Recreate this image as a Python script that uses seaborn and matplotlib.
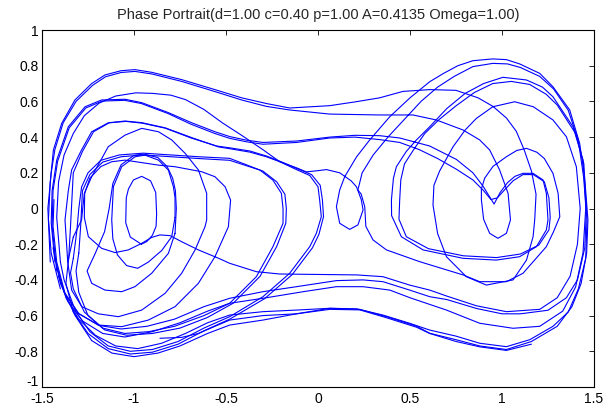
import pandas as pd
import seaborn as sns
import matplotlib.pyplot as plt
from matplotlib.transforms import ScaledTranslation

# Phase-plane orbit pieces (x, dx/dt), read as polylines.
outer_top = [(-1.40, -0.45), (-1.45, -0.25), (-1.465, -0.06), (-1.455, 0.15), (-1.438, 0.328), (-1.393, 0.477),
             (-1.321, 0.608), (-1.23, 0.70), (-1.158, 0.748), (-1.07, 0.772), (-0.995, 0.778), (-0.904, 0.763),
             (-0.741, 0.722), (-0.56, 0.666), (-0.415, 0.62), (-0.28, 0.588), (-0.154, 0.563), (0.063, 0.576),
             (0.2, 0.597), (0.335, 0.62), (0.462, 0.656), (0.607, 0.666), (0.75, 0.662), (0.87, 0.62),
             (0.951, 0.572), (1.024, 0.507), (1.078, 0.432), (1.12, 0.33), (1.16, 0.21), (1.185, 0.08),
             (1.178, -0.06), (1.169, -0.158), (1.133, -0.289), (1.06, -0.40), (0.915, -0.429), (0.806, -0.382),
             (0.698, -0.27), (0.65, -0.14), (0.625, 0.02), (0.63, 0.13), (0.661, 0.21), (0.734, 0.346),
             (0.80, 0.44), (0.861, 0.505), (0.95, 0.57), (1.069, 0.598), (1.17, 0.57), (1.277, 0.496),
             (1.35, 0.402), (1.404, 0.234), (1.425, 0.0), (1.41, -0.2), (1.37, -0.38), (1.30, -0.50),
             (1.205, -0.565), (1.024, -0.578), (0.861, -0.545), (0.698, -0.49), (0.607, -0.457), (0.498, -0.429),
             (0.353, -0.382), (0.21, -0.372), (-0.208, -0.367), (-0.335, -0.354), (-0.48, -0.307), (-0.54, -0.279),
             (-0.65, -0.232), (-0.741, -0.186), (-0.804, -0.152), (-0.859, -0.148), (-0.904, -0.162),
             (-0.958, -0.195), (-1.031, -0.232), (-1.103, -0.247), (-1.176, -0.223), (-1.248, -0.158),
             (-1.27, -0.05), (-1.268, 0.085), (-1.24, 0.17), (-1.18, 0.235), (-1.121, 0.262), (-1.049, 0.271),
             (-0.867, 0.243), (-0.777, 0.234), (-0.632, 0.206), (-0.56, 0.178), (-0.505, 0.122), (-0.475, 0.047),
             (-0.487, -0.102), (-0.56, -0.27), (-0.65, -0.419), (-0.777, -0.55), (-0.922, -0.625),
             (-1.067, -0.662), (-1.194, -0.653), (-1.302, -0.587), (-1.375, -0.475), (-1.42, -0.30), (-1.44, -0.10),
             (-1.435, 0.05)]

inner_right = [(-1.455, -0.30), (-1.468, 0.0), (-1.45, 0.2), (-1.43, 0.33), (-1.385, 0.48), (-1.315, 0.60),
               (-1.225, 0.69), (-1.155, 0.738), (-1.07, 0.762), (-0.995, 0.768), (-0.904, 0.754), (-0.741, 0.712),
               (-0.56, 0.655), (-0.415, 0.608), (-0.28, 0.572), (-0.154, 0.552), (0.063, 0.529), (0.335, 0.524),
               (0.516, 0.524), (0.643, 0.496), (0.788, 0.44), (0.879, 0.384), (0.933, 0.328), (0.987, 0.216),
               (1.033, 0.085), (1.046, -0.064), (1.024, -0.139), (0.978, -0.167), (0.933, -0.139), (0.90, -0.06),
               (0.888, 0.048), (0.888, 0.11), (0.906, 0.17), (0.951, 0.236), (1.024, 0.29), (1.08, 0.325),
               (1.133, 0.337), (1.19, 0.315), (1.23, 0.28), (1.277, 0.197), (1.305, 0.085), (1.314, -0.046),
               (1.28, -0.13), (1.241, -0.214), (1.114, -0.363), (1.024, -0.41), (0.879, -0.41), (0.788, -0.372),
               (0.553, -0.298), (0.372, -0.232), (0.299, -0.176), (0.26, -0.10), (0.254, 0.01), (0.235, 0.08),
               (0.217, 0.104), (0.24, 0.2), (0.30, 0.30), (0.38, 0.40), (0.47, 0.50), (0.56, 0.60), (0.65, 0.68),
               (0.74, 0.74), (0.842, 0.795), (0.95, 0.813), (1.03, 0.81), (1.10, 0.79), (1.205, 0.74),
               (1.28, 0.67), (1.36, 0.55), (1.415, 0.38), (1.443, 0.18), (1.462, -0.06), (1.455, -0.28),
               (1.415, -0.45), (1.36, -0.58), (1.277, -0.66), (1.151, -0.735), (1.024, -0.774), (0.879, -0.755),
               (0.75, -0.715), (0.607, -0.681), (0.498, -0.643), (0.353, -0.597), (0.209, -0.562), (0.064, -0.559),
               (-0.117, -0.569), (-0.299, -0.578), (-0.48, -0.597), (-0.60, -0.64), (-0.72, -0.70), (-0.85, -0.755),
               (-0.98, -0.785), (-1.10, -0.77), (-1.21, -0.71), (-1.30, -0.62), (-1.37, -0.50), (-1.42, -0.33)]

heart_one = [(-1.43, -0.30), (-1.45, -0.08), (-1.445, 0.10), (-1.42, 0.271), (-1.357, 0.458), (-1.266, 0.57),
             (-1.176, 0.608), (-1.049, 0.612), (-0.958, 0.593), (-0.813, 0.537), (-0.686, 0.48), (-0.56, 0.43),
             (-0.48, 0.403), (-0.39, 0.383), (-0.30, 0.37), (-0.117, 0.378), (0.064, 0.40), (0.20, 0.41),
             (0.335, 0.408), (0.444, 0.395), (0.607, 0.35), (0.752, 0.275), (0.842, 0.20), (0.897, 0.125),
             (0.93, 0.07), (0.957, 0.025), (0.99, 0.09), (1.03, 0.145), (1.07, 0.18), (1.114, 0.197),
             (1.169, 0.197), (1.223, 0.16), (1.241, 0.085), (1.25, -0.064), (1.241, -0.12), (1.187, -0.214),
             (1.096, -0.27), (0.969, -0.289), (0.788, -0.279), (0.571, -0.232), (0.453, -0.158), (0.40, -0.04),
             (0.399, 0.048), (0.41, 0.17), (0.426, 0.234), (0.48, 0.32), (0.535, 0.384), (0.607, 0.458),
             (0.70, 0.56), (0.80, 0.645), (0.90, 0.70), (1.005, 0.735), (1.133, 0.72), (1.22, 0.68),
             (1.277, 0.626), (1.386, 0.458), (1.44, 0.272), (1.459, 0.0), (1.45, -0.22), (1.41, -0.40),
             (1.35, -0.50), (1.25, -0.57), (1.10, -0.59), (1.0, -0.59), (0.861, -0.56), (0.70, -0.51),
             (0.607, -0.494), (0.498, -0.457), (0.353, -0.41), (0.245, -0.40), (0.1, -0.404), (-0.117, -0.438),
             (-0.299, -0.466), (-0.48, -0.503), (-0.62, -0.55), (-0.78, -0.62), (-0.93, -0.66), (-1.07, -0.675),
             (-1.19, -0.655), (-1.30, -0.59), (-1.38, -0.47), (-1.42, -0.32)]

heart_two = [(-1.42, -0.35), (-1.445, -0.1), (-1.44, 0.10), (-1.415, 0.265), (-1.352, 0.452), (-1.262, 0.563),
             (-1.172, 0.602), (-1.05, 0.606), (-0.96, 0.588), (-0.815, 0.532), (-0.69, 0.472), (-0.56, 0.42),
             (-0.48, 0.393), (-0.39, 0.374), (-0.30, 0.36), (-0.117, 0.37), (0.064, 0.395), (0.20, 0.40),
             (0.335, 0.386), (0.444, 0.37), (0.55, 0.33), (0.65, 0.28), (0.752, 0.22), (0.842, 0.16),
             (0.90, 0.10), (0.94, 0.05), (0.975, 0.06), (1.01, 0.10), (1.06, 0.155), (1.114, 0.19),
             (1.17, 0.19), (1.23, 0.15), (1.255, 0.06), (1.262, -0.05), (1.255, -0.12), (1.20, -0.205),
             (1.10, -0.255), (0.97, -0.275), (0.79, -0.265), (0.60, -0.225), (0.48, -0.158), (0.44, -0.06),
             (0.444, 0.048), (0.45, 0.16), (0.47, 0.25), (0.52, 0.33), (0.58, 0.42), (0.66, 0.50),
             (0.75, 0.575), (0.85, 0.65), (0.95, 0.70), (1.05, 0.712), (1.15, 0.695), (1.24, 0.64),
             (1.30, 0.58), (1.40, 0.42), (1.445, 0.25), (1.455, 0.0), (1.44, -0.25), (1.40, -0.44),
             (1.33, -0.575), (1.205, -0.66), (1.06, -0.671), (0.879, -0.643), (0.698, -0.569), (0.50, -0.50),
             (0.39, -0.457), (0.245, -0.438), (0.1, -0.438), (-0.08, -0.466), (-0.299, -0.503), (-0.48, -0.531),
             (-0.60, -0.575), (-0.75, -0.64), (-0.90, -0.69), (-1.05, -0.72), (-1.17, -0.70), (-1.28, -0.63),
             (-1.36, -0.52), (-1.41, -0.38)]

centre_knot = [(-1.36, -0.30), (-1.375, -0.064), (-1.357, 0.10), (-1.339, 0.216), (-1.285, 0.328), (-1.23, 0.43),
               (-1.14, 0.48), (-1.049, 0.49), (-0.958, 0.481), (-0.831, 0.452), (-0.686, 0.397), (-0.541, 0.345),
               (-0.48, 0.335), (-0.371, 0.316), (-0.281, 0.29), (-0.208, 0.262), (-0.117, 0.228), (-0.063, 0.205),
               (0.0, 0.212), (0.046, 0.218), (0.118, 0.2), (0.18, 0.155), (0.209, 0.122), (0.235, 0.05),
               (0.245, -0.008), (0.217, -0.092), (0.172, -0.117), (0.118, -0.083), (0.10, 0.01), (0.118, 0.104),
               (0.145, 0.178), (0.21, 0.29), (0.281, 0.384), (0.39, 0.514), (0.50, 0.62), (0.607, 0.71),
               (0.679, 0.755), (0.76, 0.80), (0.842, 0.828), (0.95, 0.838), (1.024, 0.834), (1.096, 0.81),
               (1.205, 0.757), (1.277, 0.682), (1.368, 0.552), (1.422, 0.365), (1.449, 0.178), (1.467, -0.064),
               (1.46, -0.25), (1.43, -0.42), (1.38, -0.55), (1.30, -0.66), (1.16, -0.745), (1.024, -0.79),
               (0.879, -0.77), (0.75, -0.735), (0.607, -0.699), (0.535, -0.659), (0.372, -0.606), (0.227, -0.565),
               (0.064, -0.559), (-0.117, -0.59), (-0.299, -0.625), (-0.48, -0.653), (-0.60, -0.70), (-0.75, -0.77),
               (-0.87, -0.81), (-1.0, -0.83), (-1.12, -0.81), (-1.23, -0.74), (-1.32, -0.60), (-1.40, -0.42),
               (-1.44, -0.22)]

zero_edge_a = [(-1.40, -0.30), (-1.42, -0.05), (-1.41, 0.15), (-1.38, 0.30), (-1.33, 0.42), (-1.27, 0.52),
               (-1.19, 0.59), (-1.10, 0.63), (-0.99, 0.648), (-0.90, 0.645), (-0.80, 0.635), (-0.72, 0.61),
               (-0.62, 0.555), (-0.52, 0.48), (-0.415, 0.41), (-0.30, 0.33), (-0.208, 0.262), (-0.117, 0.218),
               (-0.045, 0.185), (0.0, 0.122), (0.009, 0.048), (0.018, -0.046), (-0.009, -0.139), (-0.045, -0.214),
               (-0.154, -0.363), (-0.299, -0.494), (-0.48, -0.606), (-0.62, -0.67), (-0.76, -0.745), (-0.90, -0.79),
               (-1.02, -0.80), (-1.14, -0.77), (-1.24, -0.69), (-1.32, -0.57), (-1.38, -0.40), (-1.40, -0.30)]

zero_edge_b = [(-1.355, -0.28), (-1.345, -0.10), (-1.33, 0.2), (-1.28, 0.32), (-1.22, 0.43), (-1.135, 0.48),
               (-1.045, 0.488), (-0.955, 0.478), (-0.83, 0.45), (-0.69, 0.395), (-0.55, 0.35), (-0.48, 0.34),
               (-0.37, 0.322), (-0.28, 0.294), (-0.20, 0.262), (-0.11, 0.222), (-0.035, 0.19), (0.012, 0.13),
               (0.024, 0.048), (0.03, -0.046), (0.005, -0.145), (-0.03, -0.22), (-0.14, -0.37), (-0.29, -0.505),
               (-0.48, -0.62), (-0.62, -0.685), (-0.76, -0.76), (-0.90, -0.805), (-1.02, -0.815), (-1.14, -0.785),
               (-1.25, -0.70), (-1.33, -0.58), (-1.37, -0.42), (-1.355, -0.28)]

bulge_a = [(-1.33, -0.28), (-1.31, -0.12), (-1.30, 0.0), (-1.285, 0.12), (-1.25, 0.2), (-1.18, 0.27),
           (-1.08, 0.30), (-0.95, 0.31), (-0.80, 0.30), (-0.65, 0.29), (-0.48, 0.281), (-0.317, 0.216),
           (-0.245, 0.159), (-0.199, 0.085), (-0.19, 0.0), (-0.19, -0.083), (-0.245, -0.214), (-0.335, -0.382),
           (-0.48, -0.531), (-0.62, -0.60), (-0.78, -0.66), (-0.92, -0.69), (-1.05, -0.70), (-1.17, -0.67),
           (-1.27, -0.58), (-1.33, -0.45), (-1.345, -0.36), (-1.33, -0.28)]

bulge_b = [(-1.30, -0.25), (-1.29, -0.10), (-1.28, 0.10), (-1.24, 0.19), (-1.17, 0.26), (-1.07, 0.29),
           (-0.95, 0.30), (-0.80, 0.29), (-0.65, 0.28), (-0.48, 0.27), (-0.30, 0.21), (-0.225, 0.15),
           (-0.18, 0.08), (-0.172, 0.0), (-0.175, -0.083), (-0.225, -0.214), (-0.315, -0.38), (-0.46, -0.53),
           (-0.60, -0.61), (-0.75, -0.67), (-0.90, -0.70), (-1.04, -0.71), (-1.16, -0.68), (-1.25, -0.60),
           (-1.30, -0.47), (-1.315, -0.35), (-1.30, -0.25)]

mid_loop = [(-1.33, -0.16), (-1.285, -0.064), (-1.27, 0.085), (-1.23, 0.178), (-1.14, 0.346), (-1.049, 0.411),
            (-0.958, 0.449), (-0.867, 0.43), (-0.795, 0.384), (-0.722, 0.309), (-0.65, 0.216), (-0.605, 0.085),
            (-0.605, -0.064), (-0.614, -0.102), (-0.668, -0.232), (-0.741, -0.363), (-0.831, -0.475),
            (-0.958, -0.569), (-1.085, -0.606), (-1.194, -0.59), (-1.284, -0.55), (-1.339, -0.457),
            (-1.36, -0.30), (-1.33, -0.16)]

well_loop_a = [(-0.777, -0.05), (-0.777, 0.06), (-0.786, 0.122), (-0.813, 0.215), (-0.867, 0.271), (-0.94, 0.299),
               (-0.994, 0.29), (-1.067, 0.234), (-1.112, 0.122), (-1.121, -0.064), (-1.115, -0.17), (-1.09, -0.26),
               (-1.04, -0.32), (-0.98, -0.335), (-0.922, -0.30), (-0.849, -0.235), (-0.795, -0.158), (-0.777, -0.05)]

well_loop_b = [(-0.777, -0.139), (-0.77, 0.0), (-0.775, 0.10), (-0.79, 0.17), (-0.82, 0.235), (-0.87, 0.285),
               (-0.945, 0.305), (-1.0, 0.298), (-1.07, 0.245), (-1.115, 0.14), (-1.135, 0.0), (-1.16, -0.13),
               (-1.21, -0.25), (-1.255, -0.35), (-1.23, -0.419), (-1.158, -0.457), (-1.067, -0.466),
               (-0.995, -0.438), (-0.904, -0.363), (-0.813, -0.251), (-0.777, -0.139)]

inner_well = [(-0.96, -0.20), (-1.02, -0.16), (-1.045, -0.08), (-1.042, 0.06), (-1.03, 0.11), (-1.003, 0.16),
              (-0.958, 0.18), (-0.91, 0.155), (-0.882, 0.09), (-0.877, -0.03), (-0.88, -0.10), (-0.90, -0.15),
              (-0.93, -0.185), (-0.96, -0.20)]

final_leg = [(-0.859, -0.727), (-0.741, -0.722), (-0.65, -0.70), (-0.56, -0.66), (-0.48, -0.625), (-0.30, -0.60),
             (-0.117, -0.59), (0.064, -0.565), (0.227, -0.568), (0.372, -0.612), (0.535, -0.665), (0.607, -0.70),
             (0.75, -0.745), (0.879, -0.775), (1.024, -0.795), (1.16, -0.76)]

pieces = {
    "outer_top": outer_top, "inner_right": inner_right, "heart_one": heart_one, "heart_two": heart_two,
    "centre_knot": centre_knot, "zero_edge_a": zero_edge_a, "zero_edge_b": zero_edge_b,
    "bulge_a": bulge_a, "bulge_b": bulge_b, "mid_loop": mid_loop, "well_loop_a": well_loop_a,
    "well_loop_b": well_loop_b, "inner_well": inner_well, "final_leg": final_leg,
}

rows = []
for name, pts in pieces.items():
    for step, (x, v) in enumerate(pts):
        rows.append({"piece": name, "step": step, "x": x, "v": v})
orbit = pd.DataFrame(rows)

x_ticks = [-1.5, -1, -0.5, 0, 0.5, 1, 1.5]
x_tick_labels = ["-1.5", "-1", "-0.5", "0", "0.5", "1", "1.5"]
y_ticks = [-1, -0.8, -0.6, -0.4, -0.2, 0, 0.2, 0.4, 0.6, 0.8, 1]
y_tick_labels = ["-1", "-0.8", "-0.6", "-0.4", "-0.2", "0", "0.2", "0.4", "0.6", "0.8", "1"]
title = "Phase Portrait(d=1.00 c=0.40 p=1.00 A=0.4135 Omega=1.00)"

sns.set_theme(style="white")
plt.rcParams["font.family"] = ["Liberation Sans", "DejaVu Sans"]

fig = plt.figure(figsize=(6.14, 4.09), dpi=100)
ax = fig.add_axes([42 / 614, 22 / 409, 552 / 614, 357 / 409])
sns.lineplot(data=orbit, x="x", y="v", units="piece", estimator=None, sort=False,
             color="#0000ff", linewidth=0.8, legend=False, ax=ax)

ax.set_xlim(-1.5, 1.5)
ax.set_ylim(-1, 1)
ax.set_xticks(x_ticks)
ax.set_xticklabels(x_tick_labels)
ax.set_yticks(y_ticks)
ax.set_yticklabels(y_tick_labels)
ax.set_xlabel("")
ax.set_ylabel("")
ax.tick_params(direction="in", length=3.5, width=0.6, top=True, right=True,
               labelsize=10, colors="black", pad=2.5)
ax.tick_params(axis="x", pad=3.5)
for side in ax.spines.values():
    side.set_visible(True)
    side.set_color("black")
    side.set_linewidth(0.8)
ax.set_title(title, fontsize=10.5, pad=8)

# lift the bottom y label so it clears the first x label in the corner
lowest = ax.get_yticklabels()[0]
lowest.set_transform(lowest.get_transform() + ScaledTranslation(0, 5 / 72, fig.dpi_scale_trans))

fig.savefig("out.png", dpi=100, facecolor="white")
